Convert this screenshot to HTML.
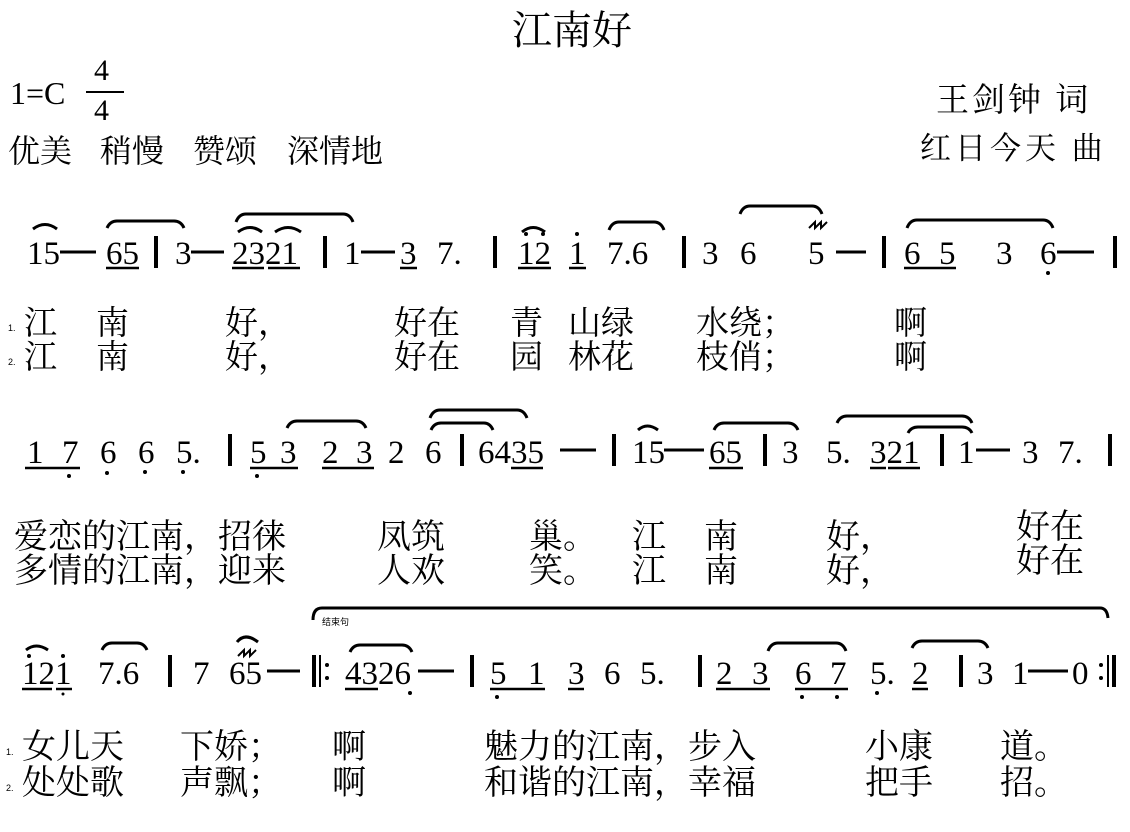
<!DOCTYPE html>
<html><head><meta charset="utf-8"><style>
html,body{margin:0;padding:0;background:#fff;}
svg{display:block}
.n{font-family:"Liberation Serif","DejaVu Serif",serif;font-size:33px;fill:#000}
.c{font-family:"Liberation Serif","Noto Serif CJK SC","Noto Sans CJK SC",serif;font-size:33px;fill:#000}
.s{font-family:"Liberation Sans","Noto Sans CJK SC",sans-serif;font-size:9px;fill:#000}
.sl{fill:none;stroke:#000;stroke-width:3}
.u{stroke:#000;stroke-width:2.5}
.b{stroke:#000;stroke-width:4}
.d{stroke:#000;stroke-width:3}
</style></head><body>
<svg width="1130" height="832" viewBox="0 0 1130 832" xmlns="http://www.w3.org/2000/svg">
<text class="c" x="572" y="44" text-anchor="middle" style="font-size:40px">江南好</text>
<text class="n" x="10" y="104" style="font-size:32px">1=C</text>
<text class="n" x="94" y="80" style="font-size:30px">4</text>
<line x1="86" y1="92" x2="124" y2="92" stroke="#000" stroke-width="2"/>
<text class="n" x="94" y="120" style="font-size:30px">4</text>
<g class="c" style="font-size:32px">
<text x="8" y="162">优美</text><text x="100" y="162">稍慢</text><text x="193" y="162">赞颂</text><text x="287" y="162">深情地</text>
</g>
<text class="c" x="936" y="111" style="font-size:33px;letter-spacing:3px">王剑钟 词</text>
<text class="c" x="920" y="159" style="font-size:31px;letter-spacing:4px">红日今天 曲</text>

<!-- ROW 1 -->
<g class="n">
<text x="27" y="264">15</text>
<text x="106" y="264">65</text>
<text x="175" y="264">3</text>
<text x="232" y="264">2321</text>
<text x="344" y="264">1</text>
<text x="400" y="264">3</text>
<text x="437" y="264">7.</text>
<text x="518" y="264">12</text>
<text x="569" y="264">1</text>
<text x="607" y="264">7.6</text>
<text x="702" y="264">3</text>
<text x="740" y="264">6</text>
<text x="808" y="264">5</text>
<text x="904" y="264">6</text>
<text x="939" y="264">5</text>
<text x="996" y="264">3</text>
<text x="1040" y="264">6</text>
</g>
<line class="d" x1="60" y1="252" x2="96" y2="252"/>
<line class="d" x1="191" y1="252" x2="224" y2="252"/>
<line class="d" x1="361" y1="252" x2="395" y2="252"/>
<line class="d" x1="836" y1="252" x2="866" y2="252"/>
<line class="d" x1="1057" y1="252" x2="1094" y2="252"/>
<g class="b">
<line x1="156" y1="236" x2="156" y2="268"/><line x1="325" y1="236" x2="325" y2="268"/>
<line x1="495" y1="236" x2="495" y2="268"/><line x1="684" y1="236" x2="684" y2="268"/>
<line x1="884" y1="236" x2="884" y2="268"/><line x1="1115" y1="236" x2="1115" y2="268"/>
</g>
<g class="u">
<line x1="106" y1="268" x2="139" y2="268"/><line x1="232" y1="268" x2="264" y2="268"/>
<line x1="268" y1="268" x2="300" y2="268"/><line x1="400" y1="268" x2="417" y2="268"/>
<line x1="518" y1="268" x2="551" y2="268"/><line x1="569" y1="268" x2="586" y2="268"/>
<line x1="904" y1="268" x2="956" y2="268"/>
</g>
<g fill="#000"><circle cx="526" cy="234" r="2"/><circle cx="543" cy="234" r="2"/><circle cx="577" cy="234" r="2"/><circle cx="1048" cy="273" r="2"/></g>
<g class="sl">
<path d="M33 229 Q45 220 57 229"/>
<path d="M107 228 Q110 221 117 221 L174 221 Q181 221 184 228"/>
<path d="M236 222 Q239 214 246 214 L343 214 Q350 214 353 222"/>
<path d="M238 232 Q250 223 262 232"/><path d="M275 232 Q288 223 301 232"/>
<path d="M522 232 Q533 223 545 232"/>
<path d="M609 230 Q612 222 619 222 L654 222 Q661 222 664 230"/>
<path d="M740 214 Q743 206 750 206 L812 206 Q819 206 822 214"/>
<path d="M907 228 Q910 220 917 220 L1043 220 Q1050 220 1053 228"/>
</g>
<path d="M809 228 L815 222 L815 228 L821 222 L821 228 L827 222" fill="none" stroke="#000" stroke-width="2"/>

<g class="c">
<text x="24" y="334">江</text><text x="96" y="334">南</text><text x="225" y="334">好，</text>
<text x="394" y="334">好在</text><text x="510" y="334">青</text><text x="568" y="334">山绿</text>
<text x="696" y="334">水绕；</text><text x="894" y="334">啊</text>
<text x="24" y="368">江</text><text x="96" y="368">南</text><text x="225" y="368">好，</text>
<text x="394" y="368">好在</text><text x="510" y="368">园</text><text x="568" y="368">林花</text>
<text x="696" y="368">枝俏；</text><text x="894" y="368">啊</text>
</g>
<text class="s" x="8" y="331">1.</text><text class="s" x="8" y="365">2.</text>

<!-- ROW 2 -->
<g class="n">
<text x="27" y="463">1</text><text x="62" y="463">7</text><text x="100" y="463">6</text>
<text x="138" y="463">6</text><text x="176" y="463">5.</text>
<text x="250" y="463">5</text><text x="280" y="463">3</text>
<text x="322" y="463">2</text><text x="356" y="463">3</text>
<text x="388" y="463">2</text><text x="425" y="463">6</text>
<text x="478" y="463">6435</text>
<text x="632" y="463">15</text><text x="709" y="463">65</text>
<text x="782" y="463">3</text><text x="826" y="463">5.</text><text x="870" y="463">321</text>
<text x="958" y="463">1</text><text x="1022" y="463">3</text><text x="1058" y="463">7.</text>
</g>
<line class="d" x1="560" y1="450" x2="596" y2="450"/>
<line class="d" x1="664" y1="450" x2="704" y2="450"/>
<line class="d" x1="976" y1="450" x2="1010" y2="450"/>
<g class="b">
<line x1="230" y1="434" x2="230" y2="466"/><line x1="462" y1="434" x2="462" y2="466"/>
<line x1="614" y1="434" x2="614" y2="466"/><line x1="765" y1="434" x2="765" y2="466"/>
<line x1="942" y1="434" x2="942" y2="466"/><line x1="1110" y1="434" x2="1110" y2="466"/>
</g>
<g class="u">
<line x1="25" y1="468" x2="80" y2="468"/><line x1="250" y1="468" x2="298" y2="468"/>
<line x1="322" y1="468" x2="374" y2="468"/><line x1="511" y1="468" x2="543" y2="468"/>
<line x1="709" y1="468" x2="743" y2="468"/><line x1="870" y1="468" x2="886" y2="468"/>
<line x1="888" y1="468" x2="920" y2="468"/>
</g>
<g fill="#000"><circle cx="69" cy="476" r="2"/><circle cx="107" cy="473" r="2"/><circle cx="145" cy="472" r="2"/><circle cx="183" cy="472" r="2"/><circle cx="257" cy="476" r="2"/></g>
<g class="sl">
<path d="M287 428 Q290 421 297 421 L356 421 Q363 421 366 428"/>
<path d="M430 418 Q433 410 440 410 L517 410 Q524 410 527 418"/>
<path d="M431 430 Q434 423 441 423 L484 423 Q490 423 493 430"/>
<path d="M638 430 Q647 422 658 430"/>
<path d="M714 430 Q717 423 724 423 L788 423 Q795 423 798 430"/>
<path d="M837 423 Q840 416 847 416 L962 416 Q969 416 972 423"/>
<path d="M908 433 Q911 427 918 427 L962 427 Q969 427 972 433"/>
</g>

<g class="c" style="font-size:34px">
<text x="14" y="548">爱恋的江南，招徕</text>
<text x="377" y="548">凤筑</text><text x="529" y="548">巢。</text>
<text x="632" y="548">江</text><text x="704" y="548">南</text><text x="826" y="548">好，</text>
<text x="1016" y="538">好在</text>
<text x="14" y="582">多情的江南，迎来</text>
<text x="377" y="582">人欢</text><text x="529" y="582">笑。</text>
<text x="632" y="582">江</text><text x="704" y="582">南</text><text x="826" y="582">好，</text>
<text x="1016" y="572">好在</text>
</g>

<!-- ROW 3 -->
<path class="sl" d="M313 620 Q313 608 322 608 L1100 608 Q1107 608 1108 618" stroke-width="2.5"/>
<text class="s" x="322" y="625">结束句</text>
<g class="n">
<text x="22" y="684">121</text><text x="98" y="684">7.6</text>
<text x="193" y="684">7</text><text x="229" y="684">65</text>
<text x="345" y="684">4326</text>
<text x="490" y="684">5</text><text x="528" y="684">1</text>
<text x="568" y="684">3</text><text x="604" y="684">6</text><text x="640" y="684">5.</text>
<text x="716" y="684">2</text><text x="752" y="684">3</text>
<text x="795" y="684">6</text><text x="830" y="684">7</text>
<text x="870" y="684">5.</text><text x="912" y="684">2</text>
<text x="977" y="684">3</text><text x="1012" y="684">1</text><text x="1072" y="684">0</text>
</g>
<line class="d" x1="267" y1="671" x2="300" y2="671"/>
<line class="d" x1="418" y1="671" x2="454" y2="671"/>
<line class="d" x1="1028" y1="671" x2="1068" y2="671"/>
<g class="b">
<line x1="170" y1="655" x2="170" y2="687"/><line x1="472" y1="655" x2="472" y2="687"/>
<line x1="700" y1="655" x2="700" y2="687"/><line x1="961" y1="655" x2="961" y2="687"/>
</g>
<line x1="314" y1="655" x2="314" y2="687" stroke="#000" stroke-width="4"/>
<line x1="320" y1="655" x2="320" y2="687" stroke="#000" stroke-width="2"/>
<circle cx="327" cy="665" r="2" fill="#000"/><circle cx="327" cy="678" r="2" fill="#000"/>
<circle cx="1101" cy="665" r="2" fill="#000"/><circle cx="1101" cy="678" r="2" fill="#000"/>
<line x1="1108" y1="655" x2="1108" y2="687" stroke="#000" stroke-width="2"/>
<line x1="1114" y1="655" x2="1114" y2="687" stroke="#000" stroke-width="4"/>
<g class="u">
<line x1="22" y1="689" x2="52" y2="689"/><line x1="56" y1="689" x2="72" y2="689"/>
<line x1="345" y1="689" x2="378" y2="689"/>
<line x1="490" y1="689" x2="545" y2="689"/><line x1="568" y1="689" x2="584" y2="689"/>
<line x1="716" y1="689" x2="770" y2="689"/><line x1="795" y1="689" x2="848" y2="689"/>
<line x1="912" y1="689" x2="928" y2="689"/>
</g>
<g fill="#000">
<circle cx="29" cy="656" r="2"/><circle cx="63" cy="656" r="2"/><circle cx="63" cy="694" r="1.5"/>
<circle cx="410" cy="693" r="2"/><circle cx="497" cy="697" r="2"/>
<circle cx="802" cy="697" r="2"/><circle cx="837" cy="697" r="2"/><circle cx="877" cy="693" r="2"/>
</g>
<g class="sl">
<path d="M26 650 Q36 642 48 650"/>
<path d="M102 650 Q105 643 112 643 L137 643 Q144 643 147 650"/>
<path d="M237 642 Q245 632 258 642"/>
<path d="M350 652 Q353 645 360 645 L402 645 Q409 645 412 652"/>
<path d="M768 651 Q771 643 778 643 L836 643 Q843 643 846 651"/>
<path d="M912 648 Q915 641 922 641 L978 641 Q985 641 988 648"/>
</g>
<path d="M238 656 L244 650 L244 656 L250 650 L250 656 L256 650" fill="none" stroke="#000" stroke-width="2"/>

<g class="c" style="font-size:34px">
<text x="22" y="758">女儿天</text><text x="180" y="758">下娇；</text><text x="332" y="758">啊</text>
<text x="484" y="758">魅力的江南，步入</text><text x="865" y="758">小康</text><text x="1000" y="758">道。</text>
<text x="22" y="794">处处歌</text><text x="180" y="794">声飘；</text><text x="332" y="794">啊</text>
<text x="484" y="794">和谐的江南，幸福</text><text x="865" y="794">把手</text><text x="1000" y="794">招。</text>
</g>
<text class="s" x="6" y="755">1.</text><text class="s" x="6" y="791">2.</text>
</svg>
</body></html>
